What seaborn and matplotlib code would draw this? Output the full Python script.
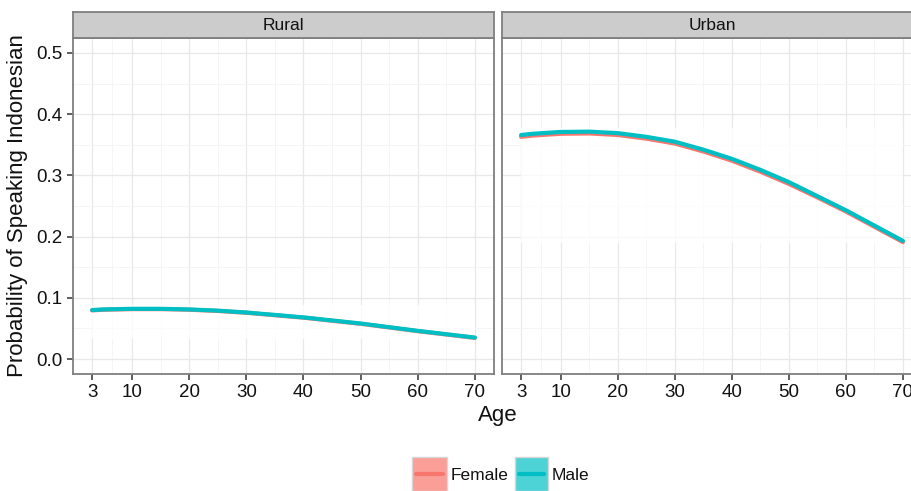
import numpy as np
import pandas as pd
import matplotlib
matplotlib.use("Agg")
import matplotlib.pyplot as plt
import seaborn as sns
from matplotlib.patches import Rectangle
from matplotlib.lines import Line2D

# Predicted probability of speaking Indonesian by age, sex and region
ages = [3, 5, 10, 15, 20, 25, 30, 35, 40, 45, 50, 55, 60, 65, 70]
rural_female = [0.0795, 0.0805, 0.0815, 0.0815, 0.0805, 0.0785, 0.0755, 0.0715,
                0.0675, 0.0625, 0.0575, 0.0515, 0.0455, 0.0400, 0.0345]
rural_male = [0.0800, 0.0810, 0.0820, 0.0820, 0.0810, 0.0790, 0.0760, 0.0720,
              0.0680, 0.0630, 0.0580, 0.0520, 0.0460, 0.0405, 0.0350]
urban_female = [0.363, 0.365, 0.368, 0.3685, 0.366, 0.360, 0.352, 0.339,
                0.324, 0.306, 0.286, 0.264, 0.241, 0.216, 0.191]
urban_male = [0.366, 0.368, 0.371, 0.3715, 0.369, 0.363, 0.355, 0.342,
              0.327, 0.309, 0.289, 0.266, 0.243, 0.218, 0.193]

regions = ["Rural", "Urban"]
sexes = ["Female", "Male"]
x_ticks = [3, 10, 20, 30, 40, 50, 60, 70]
x_minor = [6.5, 15, 25, 35, 45, 55, 65]
y_ticks = [0.0, 0.1, 0.2, 0.3, 0.4, 0.5]
y_minor = [0.05, 0.15, 0.25, 0.35, 0.45]
palette = {"Female": "#F8766D", "Male": "#00BFC4"}
key_fill = {"Female": "#F99F98", "Male": "#4DD3D6"}

series = {("Rural", "Female"): rural_female, ("Rural", "Male"): rural_male,
          ("Urban", "Female"): urban_female, ("Urban", "Male"): urban_male}
rows = []
for (region, sex), vals in series.items():
    for a, v in zip(ages, vals):
        rows.append({"Age": a, "Prob": v, "Region": region, "Sex": sex})
df = pd.DataFrame(rows)

sns.set_theme(style="white")
plt.rcParams["font.family"] = ["Liberation Sans", "DejaVu Sans"]

W, H = 912, 491
fig = plt.figure(figsize=(W / 100, H / 100), dpi=100)
fig.patch.set_facecolor("white")


def fx(px):
    return px / W


def fy(py):
    return 1 - py / H


panel_top, panel_bot = 38, 374
strip_top = 12
panels = [(73, 494), (502, 922)]
border = "#7f7f7f"

for i, (region, (x0, x1)) in enumerate(zip(regions, panels)):
    ax = fig.add_axes([fx(x0), fy(panel_bot), fx(x1 - x0), (panel_bot - panel_top) / H])
    sub = df[df["Region"] == region]
    # faint white confidence band over the grid
    lo = sub.groupby("Age")["Prob"].min().min()
    hi = sub.groupby("Age")["Prob"].max().max()
    ax.fill_between([ages[0], ages[-1]], [lo - 0.002] * 2, [hi + 0.006] * 2,
                    color="white", alpha=0.75, lw=0, zorder=1)
    sns.lineplot(data=sub, x="Age", y="Prob", hue="Sex", hue_order=sexes,
                 palette=palette, linewidth=3.0, legend=False, ax=ax, zorder=3)
    ax.set_xlim(-0.35, 73.35)
    ax.set_ylim(-0.0245, 0.5245)
    ax.set_xticks(x_ticks)
    ax.set_xticks(x_minor, minor=True)
    ax.set_yticks(y_ticks)
    ax.set_yticks(y_minor, minor=True)
    ax.set_axisbelow(True)
    ax.grid(which="major", color="#e8e8e8", lw=0.9, zorder=0)
    ax.grid(which="minor", color="#f5f5f5", lw=0.7, zorder=0)
    ax.set_xlabel("")
    ax.set_ylabel("")
    for s in ax.spines.values():
        s.set_color(border)
        s.set_linewidth(1.3)
    ax.tick_params(axis="x", which="major", length=4.5, width=1.1, color="#333333",
                   labelsize=13.5, labelcolor="#111111", pad=3, bottom=True)
    ax.tick_params(which="minor", length=0)
    if i == 0:
        ax.set_yticklabels([f"{t:.1f}" for t in y_ticks])
        ax.tick_params(axis="y", which="major", length=4.5, width=1.1, color="#333333",
                       labelsize=13.5, labelcolor="#111111", pad=3, left=True)
    else:
        ax.tick_params(axis="y", which="major", left=False, labelleft=False)

    sax = fig.add_axes([fx(x0), fy(panel_top), fx(x1 - x0), (panel_top - strip_top) / H])
    sax.set_facecolor("#cccccc")
    sax.set_xticks([])
    sax.set_yticks([])
    for s in sax.spines.values():
        s.set_color(border)
        s.set_linewidth(1.3)
    sax.text(0.5, 0.5, region, ha="center", va="center", fontsize=12.5,
             color="#111111", transform=sax.transAxes)

fig.text(fx(18), fy(206), "Probability of Speaking Indonesian", rotation=90,
         ha="center", va="center", fontsize=16, color="#111111")
fig.text(fx(498), fy(416), "Age", ha="center", va="center", fontsize=16, color="#111111")

# legend keys along the bottom
keys = [("Female", 412, 447, 451), ("Male", 515, 548, 552)]
for sex, k0, k1, tx in keys:
    fig.add_artist(Rectangle((fx(k0), fy(491)), fx(k1 - k0), (491 - 457) / H,
                             transform=fig.transFigure, facecolor=key_fill[sex],
                             edgecolor="#d6d6d6", lw=1.0))
    fig.add_artist(Line2D([fx(k0 + 4), fx(k1 - 4)], [fy(474), fy(474)],
                          transform=fig.transFigure, color=palette[sex], lw=3.0))
    fig.text(fx(tx), fy(475), sex, ha="left", va="center", fontsize=12.5, color="#111111")

fig.savefig("out.png", dpi=100)
